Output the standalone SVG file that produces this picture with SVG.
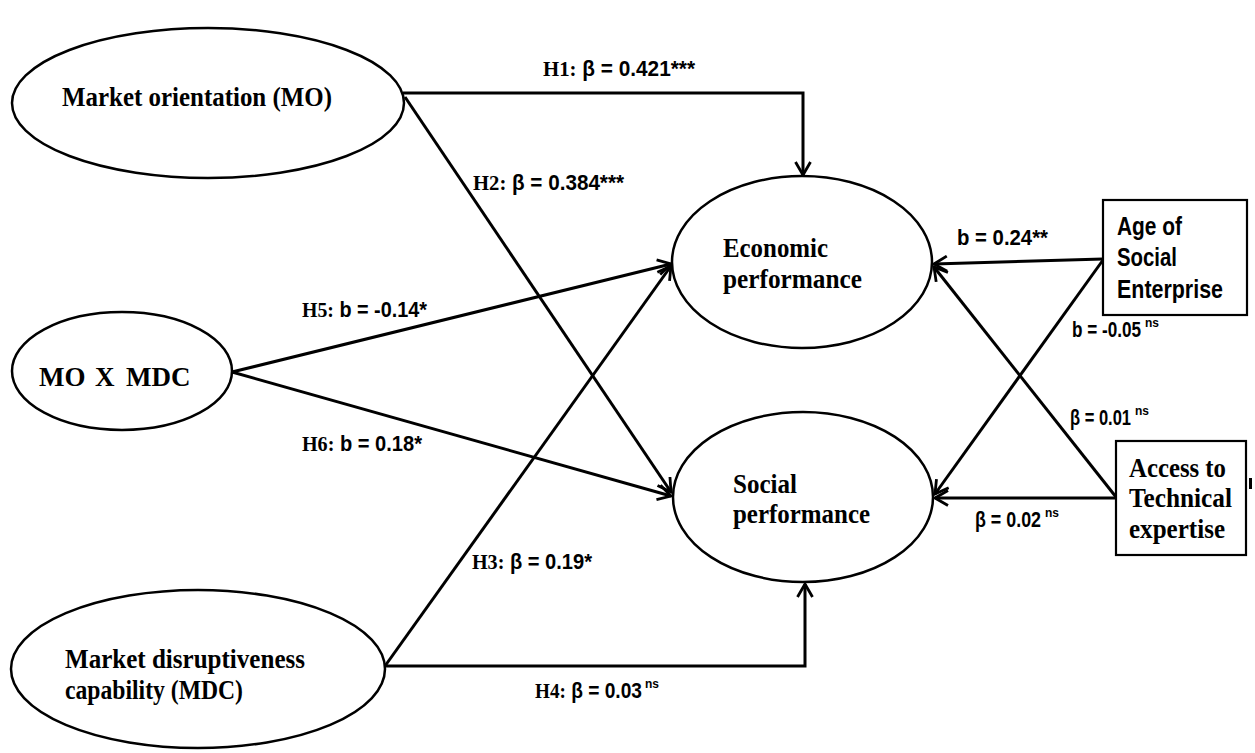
<svg xmlns="http://www.w3.org/2000/svg" width="1255" height="753" viewBox="0 0 1255 753">
<style>
.node{fill:#fff;stroke:#000;stroke-width:2.5}
.box{fill:#fff;stroke:#000;stroke-width:2.2}
.t{font-family:"Liberation Serif","Times New Roman",serif;font-weight:bold;font-size:27px;fill:#000}
.s{font-family:"Liberation Sans",Arial,sans-serif;font-weight:bold;font-size:26px;fill:#000}
.lbl{font-family:"Liberation Sans",Arial,sans-serif;font-weight:bold;font-size:22px;fill:#000}
.h{font-family:"Liberation Serif","Times New Roman",serif}
.sup{font-family:"Liberation Sans",Arial,sans-serif;font-weight:bold;font-size:13px;fill:#000}
.edge{fill:none;stroke:#000;stroke-width:3;marker-end:url(#arr)}
</style>
<defs>
<marker id="arr" markerUnits="userSpaceOnUse" markerWidth="18" markerHeight="18" viewBox="0 0 18 18" refX="16" refY="9" orient="auto">
<path d="M3,1.5 L16,9 L3,16.5" fill="none" stroke="#000" stroke-width="2.8"/>
</marker>
</defs>
<rect width="1255" height="753" fill="#fff"/>
<g id="connectors">
<path class="edge" d="M403,93 H803 V175"/>
<path class="edge" d="M405,97 L671,492"/>
<path class="edge" d="M232,372 L671,264"/>
<path class="edge" d="M232,372 L671,496"/>
<path class="edge" d="M385,666 L671,266"/>
<path class="edge" d="M385,666 H805 V584"/>
<path class="edge" d="M1103,259 L934,264"/>
<path class="edge" d="M1103,260 L935,494"/>
<path class="edge" d="M1116,497 L934,267"/>
<path class="edge" d="M1116,498 L935,498"/>
</g>
<g id="labels">
<text class="lbl" x="543" y="76" textLength="152" lengthAdjust="spacingAndGlyphs"><tspan class="h">H1:</tspan> β = 0.421***</text>
<text class="lbl" x="473" y="190" textLength="151" lengthAdjust="spacingAndGlyphs"><tspan class="h">H2:</tspan> β = 0.384***</text>
<text class="lbl" x="302" y="317" textLength="125" lengthAdjust="spacingAndGlyphs"><tspan class="h">H5:</tspan> b = -0.14*</text>
<text class="lbl" x="302" y="451" textLength="120" lengthAdjust="spacingAndGlyphs"><tspan class="h">H6:</tspan> b = 0.18*</text>
<text class="lbl" x="472" y="569" textLength="120" lengthAdjust="spacingAndGlyphs"><tspan class="h">H3:</tspan> β = 0.19*</text>
<text class="lbl" x="535" y="698" textLength="107" lengthAdjust="spacingAndGlyphs"><tspan class="h">H4:</tspan> β = 0.03</text>
<text class="sup" x="645" y="688" textLength="14" lengthAdjust="spacingAndGlyphs">ns</text>
<text class="lbl" x="957" y="245" textLength="91" lengthAdjust="spacingAndGlyphs">b = 0.24**</text>
<text class="lbl" x="1072" y="337" textLength="69" lengthAdjust="spacingAndGlyphs">b = -0.05</text>
<text class="sup" x="1145" y="327" textLength="14" lengthAdjust="spacingAndGlyphs">ns</text>
<text class="lbl" x="1070" y="425" textLength="61" lengthAdjust="spacingAndGlyphs">β = 0.01</text>
<text class="sup" x="1135" y="415" textLength="14" lengthAdjust="spacingAndGlyphs">ns</text>
<text class="lbl" x="975" y="527" textLength="66" lengthAdjust="spacingAndGlyphs">β = 0.02</text>
<text class="sup" x="1045" y="517" textLength="14" lengthAdjust="spacingAndGlyphs">ns</text>
</g>
<g id="mo">
<ellipse class="node" cx="208" cy="103" rx="196" ry="75"/>
<text class="t" x="62" y="106" textLength="270" lengthAdjust="spacingAndGlyphs">Market orientation (MO)</text>
</g>
<g id="moxmdc">
<ellipse class="node" cx="122" cy="371" rx="110" ry="59"/>
<text class="t" y="386"><tspan x="39">MO</tspan><tspan x="95">X</tspan><tspan x="126">MDC</tspan></text>
</g>
<g id="mdc">
<ellipse class="node" cx="198" cy="669" rx="187" ry="79"/>
<text class="t" x="65" y="668" textLength="240" lengthAdjust="spacingAndGlyphs">Market disruptiveness</text>
<text class="t" x="65" y="699" textLength="178" lengthAdjust="spacingAndGlyphs">capability (MDC)</text>
</g>
<g id="economic">
<ellipse class="node" cx="802" cy="262" rx="130" ry="86"/>
<text class="t" x="723" y="257" textLength="105" lengthAdjust="spacingAndGlyphs">Economic</text>
<text class="t" x="723" y="288" textLength="139" lengthAdjust="spacingAndGlyphs">performance</text>
</g>
<g id="social">
<ellipse class="node" cx="803" cy="497" rx="130" ry="85"/>
<text class="t" x="733" y="493" textLength="64" lengthAdjust="spacingAndGlyphs">Social</text>
<text class="t" x="733" y="523" textLength="137" lengthAdjust="spacingAndGlyphs">performance</text>
</g>
<g id="age">
<rect class="box" x="1103" y="200" width="144" height="115"/>
<text class="s" x="1117" y="235" textLength="65" lengthAdjust="spacingAndGlyphs">Age of</text>
<text class="s" x="1117" y="266" textLength="60" lengthAdjust="spacingAndGlyphs">Social</text>
<text class="s" x="1117" y="298" textLength="106" lengthAdjust="spacingAndGlyphs">Enterprise</text>
</g>
<g id="access">
<rect class="box" x="1116" y="441" width="130" height="114"/>
<text class="t" x="1129" y="477" textLength="97" lengthAdjust="spacingAndGlyphs">Access to</text>
<text class="t" x="1129" y="507" textLength="103" lengthAdjust="spacingAndGlyphs">Technical</text>
<text class="t" x="1129" y="538" textLength="96" lengthAdjust="spacingAndGlyphs">expertise</text>
</g>
<rect x="1249" y="478" width="3" height="11" fill="#000"/>
</svg>
